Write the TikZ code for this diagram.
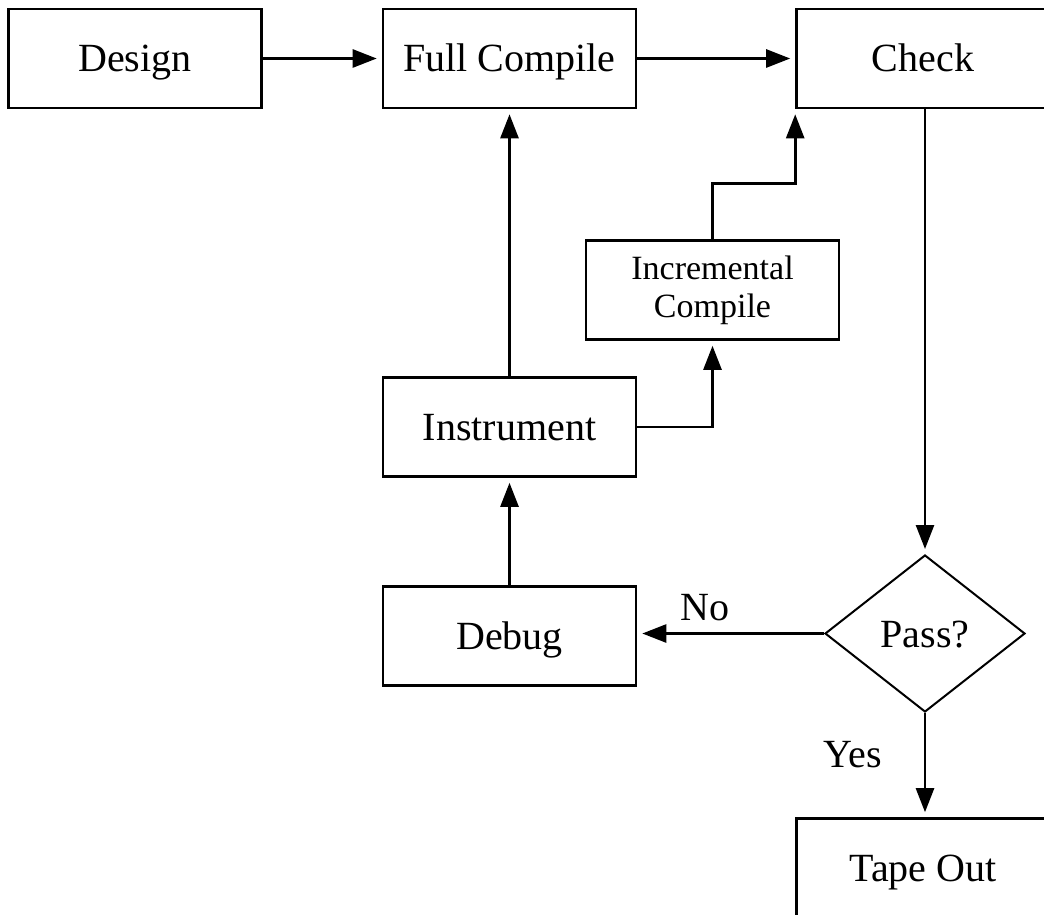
\documentclass[tikz,border=0pt]{standalone}
\usepackage{fontspec}
\setmainfont{Liberation Serif}
\usetikzlibrary{shapes.geometric,arrows.meta,calc}
\begin{document}
\begin{tikzpicture}[x=1pt,y=-1pt,
  box/.style={draw,line width=2.6pt,rectangle,minimum width=253pt,minimum height=99pt,inner sep=0pt,text height=30pt,text depth=3pt,font=\fontsize{40}{46}\selectfont},
  smallbox/.style={draw,line width=2.6pt,rectangle,minimum width=253pt,minimum height=99pt,inner sep=0pt,font=\fontsize{34}{38}\selectfont,align=center},
  dec/.style={draw,line width=2pt,diamond,minimum width=200pt,minimum height=157pt,inner sep=0pt,text height=30pt,text depth=3pt,font=\fontsize{40}{46}\selectfont},
  arr/.style={line width=2.6pt,-{Triangle[length=24pt,width=18pt]},shorten >=5pt},
  lbl/.style={font=\fontsize{40}{46}\selectfont,inner sep=0pt}]
\useasboundingbox (0,0) rectangle (1044,915);
\node[box] (design) at (135,58.5) {Design};
\node[box] (full) at (509.5,58.5) {Full Compile};
\node[box] (check) at (923,58.5) {Check};
\node[smallbox] (inc) at (712.5,290) {Incremental\\Compile};
\node[box] (instr) at (509.5,427) {Instrument};
\node[box] (debug) at (509.5,636) {Debug};
\node[dec] (pass) at (925,633.5) {Pass?};
\node[box] (tape) at (923,868) {Tape Out};
\node[lbl] (no) at (705,608) {No};
\node[lbl] (yes) at (853,755) {Yes};
\draw[arr] (design) -- (full);
\draw[arr] (full) -- (check);
\draw[arr] (check.south -| pass.north) -- (pass.north);
\draw[arr] (pass.west) -- (pass.west -| debug.east);
\draw[arr] (pass.south) -- (pass.south |- tape.north);
\draw[arr] (debug) -- (instr);
\draw[arr] (instr) -- (full);
\draw[arr] (instr.east) -| (inc.south);
\draw[arr] (inc.north) -- ++(0,-56) -| (check.south west);
\end{tikzpicture}
\end{document}
